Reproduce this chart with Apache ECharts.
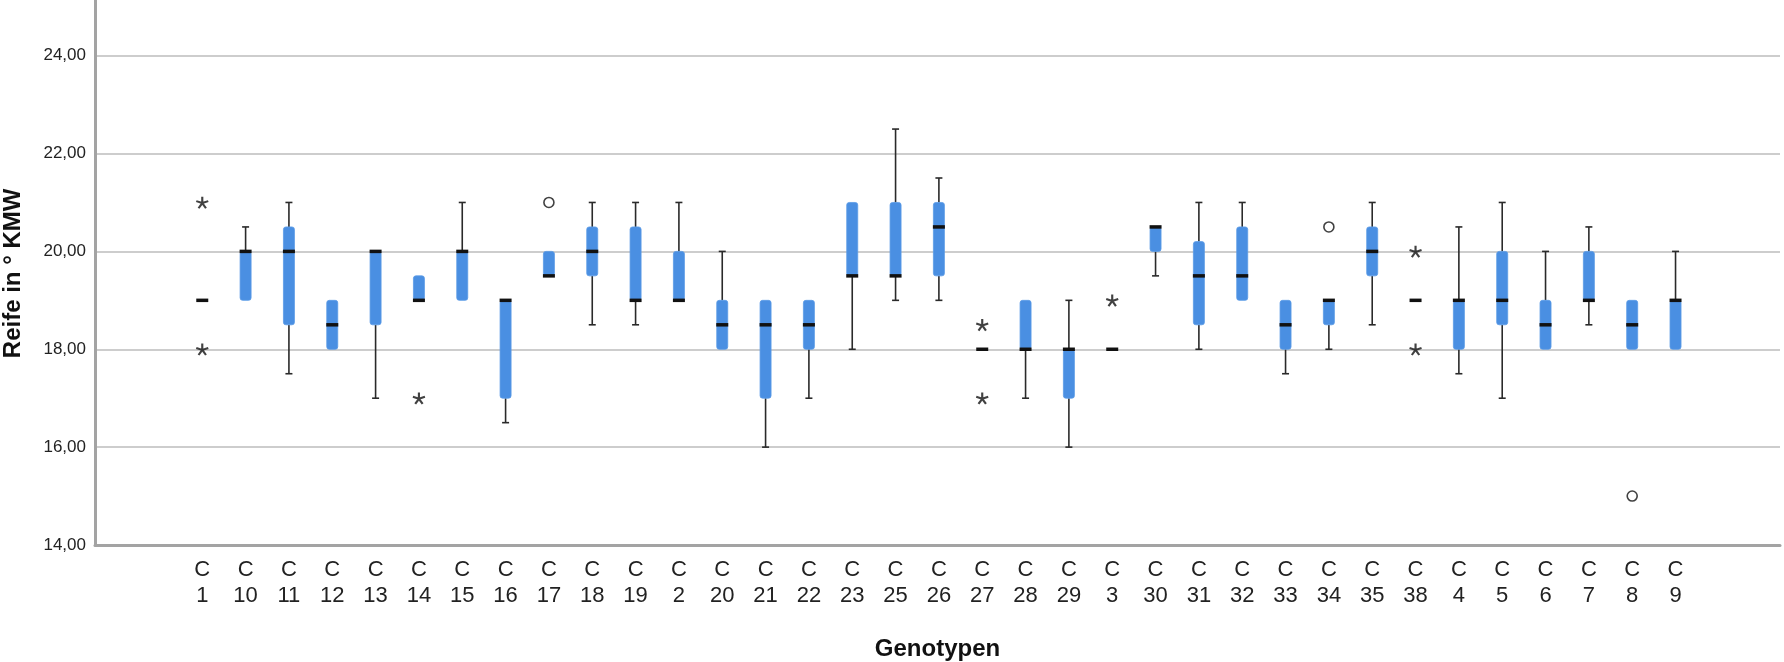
<!DOCTYPE html>
<html>
<head>
<meta charset="utf-8">
<script src="https://cdn.jsdelivr.net/npm/echarts@6/dist/echarts.min.js"></script>
<style>
html,body{margin:0;padding:0;background:#fff;}
#chart{width:1784px;height:662px;}
</style>
</head>
<body>
<div id="chart"></div>
<script>
// ---- data ----
const categories = ['C\n1','C\n10','C\n11','C\n12','C\n13','C\n14','C\n15','C\n16','C\n17','C\n18',
  'C\n19','C\n2','C\n20','C\n21','C\n22','C\n23','C\n25','C\n26','C\n27','C\n28',
  'C\n29','C\n3','C\n30','C\n31','C\n32','C\n33','C\n34','C\n35','C\n38','C\n4',
  'C\n5','C\n6','C\n7','C\n8','C\n9'];
const mins    = [19,19,17.5,18,17,19,19,16.5,19.5,18.5, 18.5,19,18,16,17,18,19,19,18,17, 16,18,19.5,18,19,17.5,18,18.5,19,17.5, 17,18,18.5,18,18];
const q1s     = [19,19,18.5,18,18.5,19,19,17,19.5,19.5, 19,19,18,17,18,19.5,19.5,19.5,18,18, 17,18,20,18.5,19,18,18.5,19.5,19,18, 18.5,18,19,18,18];
const medians = [19,20,20,18.5,20,19,20,19,19.5,20, 19,19,18.5,18.5,18.5,19.5,19.5,20.5,18,18, 18,18,20.5,19.5,19.5,18.5,19,20,19,19, 19,18.5,19,18.5,19];
const q3s     = [19,20,20.5,19,20,19.5,20,19,20,20.5, 20.5,20,19,19,19,21,21,21,18,19, 18,18,20.5,20.2,20.5,19,19,20.5,19,19, 20,19,20,19,19];
const maxs    = [19,20.5,21,19,20,19.5,21,19,20,21, 21,21,20,19,19,21,22.5,21.5,18,19, 19,18,20.5,21,21,19,19,21,19,20.5, 21,20,20.5,19,20];
// outliers (o) and extreme values (*)
const outliers = [['C\n17',21],['C\n34',20.5],['C\n8',15]];
const extremes = [['C\n1',21],['C\n1',18],['C\n14',17],['C\n27',18.5],['C\n27',17],['C\n3',19],['C\n38',20],['C\n38',18]];
const yTicks = {min:14, max:26, interval:2};

const boxData = categories.map((c,i)=>[i, mins[i], q1s[i], medians[i], q3s[i], maxs[i]]);

const BOX_W = 11, CAP_W = 7;
function renderBox(params, api){
  const i = api.value(0);
  const pMin = api.coord([i, api.value(1)]);
  const pQ1  = api.coord([i, api.value(2)]);
  const pMed = api.coord([i, api.value(3)]);
  const pQ3  = api.coord([i, api.value(4)]);
  const pMax = api.coord([i, api.value(5)]);
  const x = pMed[0];
  const children = [];
  const wStyle = {stroke:'#2a2a2a', lineWidth:1.6};
  if (pMax[1] < pQ3[1] - 0.5) {
    children.push({type:'line', shape:{x1:x,y1:pQ3[1],x2:x,y2:pMax[1]}, style:wStyle});
    children.push({type:'line', shape:{x1:x-CAP_W/2,y1:pMax[1],x2:x+CAP_W/2,y2:pMax[1]}, style:wStyle});
  }
  if (pMin[1] > pQ1[1] + 0.5) {
    children.push({type:'line', shape:{x1:x,y1:pQ1[1],x2:x,y2:pMin[1]}, style:wStyle});
    children.push({type:'line', shape:{x1:x-CAP_W/2,y1:pMin[1],x2:x+CAP_W/2,y2:pMin[1]}, style:wStyle});
  }
  const h = pQ1[1] - pQ3[1];
  if (h > 0.5) {
    children.push({type:'rect', shape:{x:x-BOX_W/2, y:pQ3[1], width:BOX_W, height:h, r:2.5},
      style:{fill:'#4a8fe2', stroke:'#5b9ae6', lineWidth:0.8}});
  }
  children.push({type:'rect', shape:{x:x-BOX_W/2-0.5, y:pMed[1]-1.75, width:BOX_W+1, height:3.5},
    style:{fill:'#111'}});
  return {type:'group', children};
}

const fmt = v => v.toFixed(2).replace('.', ',');
const chart = echarts.init(document.getElementById('chart'), null, {renderer:'canvas'});
const gridTop = -42.2, gridBottom = 117;
chart.setOption({
  animation:false,
  backgroundColor:'#fff',
  grid:[
    {left:95, right:4, top:gridTop, bottom:gridBottom, outerBoundsMode:'none', containLabel:false},
    {left:180.6, right:86.8, top:gridTop, bottom:gridBottom, outerBoundsMode:'none', containLabel:false}
  ],
  xAxis:[
    {gridIndex:0, type:'value', min:0, max:1,
     axisLine:{show:true, onZero:false, lineStyle:{color:'#a3a3a3', width:3}},
     axisTick:{show:false}, axisLabel:{show:false}, splitLine:{show:false},
     name:'Genotypen', nameLocation:'middle', nameGap:92,
     nameTextStyle:{fontFamily:'Liberation Sans, Arial', fontWeight:'bold', fontSize:24, color:'#111'}},
    {gridIndex:1, type:'category', data:categories,
     axisLine:{show:false}, axisTick:{show:false},
     axisLabel:{interval:0, fontFamily:'Liberation Sans, Arial', fontSize:22, color:'#222', lineHeight:26, margin:12}}
  ],
  yAxis:[
    {gridIndex:0, type:'value', min:yTicks.min, max:yTicks.max, interval:yTicks.interval,
     axisLine:{show:true, lineStyle:{color:'#a3a3a3', width:3}},
     axisTick:{show:false},
     axisLabel:{formatter:fmt, fontFamily:'Liberation Sans, Arial', fontSize:17, color:'#222', margin:9},
     splitLine:{show:true, lineStyle:{color:'#bdbdbd', width:1.5}},
     name:'Reife in ° KMW', nameLocation:'middle', nameGap:70,
     nameTextStyle:{fontFamily:'Liberation Sans, Arial', fontWeight:'bold', fontSize:24, color:'#111', padding:[0,44,0,0]}},
    {gridIndex:1, type:'value', min:yTicks.min, max:yTicks.max, interval:yTicks.interval,
     axisLine:{show:false}, axisTick:{show:false}, axisLabel:{show:false}, splitLine:{show:false}}
  ],
  series:[
    {type:'custom', xAxisIndex:1, yAxisIndex:1, data:boxData, renderItem:renderBox,
     encode:{x:0, y:[1,2,3,4,5]}, z:3},
    {type:'scatter', xAxisIndex:1, yAxisIndex:1, data:outliers, symbol:'circle', symbolSize:10,
     itemStyle:{color:'rgba(255,255,255,0)', borderColor:'#111', borderWidth:1.6}, z:4},
    {type:'scatter', xAxisIndex:1, yAxisIndex:1, data:extremes,
     symbol:'path://M0,0L0,-1M0,0L0.951,-0.309M0,0L0.588,0.809M0,0L-0.588,0.809M0,0L-0.951,-0.309',
     symbolSize:[12,11.5],
     itemStyle:{color:'rgba(0,0,0,0)', borderColor:'#111', borderWidth:2.1}, z:4}
  ]
});
</script>
</body>
</html>
